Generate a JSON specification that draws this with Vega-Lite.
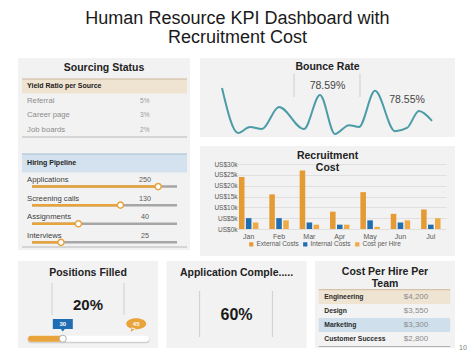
{
  "$schema": "https://vega.github.io/schema/vega-lite/v6.json",
  "background": "white",
  "padding": {"left": 18, "top": 9, "right": 0, "bottom": 0},
  "config": {
    "font": "Liberation Sans",
    "view": {"fill": "#f2f2f2", "stroke": null},
    "title": {"fontSize": 10.5, "fontWeight": "bold", "color": "#222222", "anchor": "middle", "frame": "group"}
  },
  "title": {"text": ["Human Resource KPI Dashboard with", "Recruitment Cost"], "fontSize": 18, "fontWeight": "normal", "color": "#1a1a1a", "lineHeight": 19.5, "offset": 11, "frame": "bounds", "anchor": "middle", "dx": -5},
  "spacing": 5,
  "resolve": {"scale": {"color": "independent"}, "legend": {"color": "independent"}},
  "vconcat": [
    {
      "spacing": 10,
      "resolve": {"scale": {"color": "independent"}, "legend": {"color": "independent"}},
      "hconcat": [
        {
          "width": 172, "height": 192,
          "title": {"text": "Sourcing Status", "offset": -15},
          "layer": [
            {
              "data": {"values": [
                {"source": "Referral", "ratio": "5%"},
                {"source": "Career page", "ratio": "3%"},
                {"source": "Job boards", "ratio": "2%"}
              ]},
              "layer": [
                {"data": {"values": [{}]}, "mark": {"type": "rect", "color": "#efe3d2"},
                 "encoding": {
                   "y": {"datum": "Yield Ratio per Source", "type": "nominal", "scale": {"type": "band", "domain": ["Yield Ratio per Source", "Referral", "Career page", "Job boards"], "range": [21, 79], "paddingInner": 0, "paddingOuter": 0}, "axis": null},
                   "x": {"datum": -0.069, "type": "quantitative", "scale": {"domain": [0, 1], "range": [14, 159], "zero": false, "nice": false}, "axis": null},
                   "x2": {"datum": 1.069}}},
                {"data": {"values": [{}]}, "mark": {"type": "rule", "color": "#cdb99b", "strokeWidth": 1},
                 "encoding": {
                   "y": {"datum": "Yield Ratio per Source", "type": "nominal", "bandPosition": 0, "axis": null},
                   "x": {"datum": -0.069, "type": "quantitative", "axis": null},
                   "x2": {"datum": 1.069}}},
                {"data": {"values": [{}]}, "mark": {"type": "text", "text": "Yield Ratio per Source", "align": "left", "baseline": "middle", "fontSize": 7, "fontWeight": "bold", "color": "#222222"},
                 "encoding": {
                   "y": {"datum": "Yield Ratio per Source", "type": "nominal", "axis": null},
                   "x": {"datum": -0.034, "type": "quantitative", "axis": null}}},
                {"mark": {"type": "text", "align": "left", "baseline": "middle", "fontSize": 7.7, "color": "#8c8c8c"},
                 "encoding": {
                   "y": {"field": "source", "type": "nominal", "axis": null},
                   "x": {"datum": -0.034, "type": "quantitative", "axis": null},
                   "text": {"field": "source"}}},
                {"mark": {"type": "text", "align": "left", "baseline": "middle", "fontSize": 6.5, "color": "#9a9a9a"},
                 "encoding": {
                   "y": {"field": "source", "type": "nominal", "axis": null},
                   "x": {"datum": 0.745, "type": "quantitative", "axis": null},
                   "text": {"field": "ratio"}}},
                {"data": {"values": [{}]}, "mark": {"type": "rule", "color": "#b8b8b8", "strokeWidth": 1},
                 "encoding": {
                   "y": {"datum": "Job boards", "type": "nominal", "bandPosition": 1, "axis": null},
                   "x": {"datum": -0.069, "type": "quantitative", "axis": null},
                   "x2": {"datum": 1.069}}}
              ]
            },
            {
              "data": {"values": [
                {"stage": "Applications", "count": 250, "progress": 0.87},
                {"stage": "Screening calls", "count": 130, "progress": 0.61},
                {"stage": "Assignments", "count": 40, "progress": 0.32},
                {"stage": "Interviews", "count": 25, "progress": 0.2}
              ]},
              "layer": [
                {"data": {"values": [{}]}, "mark": {"type": "rect", "color": "#d3e2ee"},
                 "encoding": {
                   "y": {"datum": "Hiring Pipeline", "type": "nominal", "scale": {"type": "band", "domain": ["Hiring Pipeline", "Applications", "Screening calls", "Assignments", "Interviews"], "range": [96, 189], "paddingInner": 0, "paddingOuter": 0}, "axis": null},
                   "x": {"datum": -0.069, "type": "quantitative", "axis": null},
                   "x2": {"datum": 1.069}}},
                {"data": {"values": [{}]}, "mark": {"type": "rule", "color": "#a3bbcf", "strokeWidth": 1},
                 "encoding": {
                   "y": {"datum": "Hiring Pipeline", "type": "nominal", "bandPosition": 0, "axis": null},
                   "x": {"datum": -0.069, "type": "quantitative", "axis": null},
                   "x2": {"datum": 1.069}}},
                {"data": {"values": [{}]}, "mark": {"type": "text", "text": "Hiring Pipeline", "align": "left", "baseline": "middle", "fontSize": 7, "fontWeight": "bold", "color": "#222222"},
                 "encoding": {
                   "y": {"datum": "Hiring Pipeline", "type": "nominal", "axis": null},
                   "x": {"datum": -0.034, "type": "quantitative", "axis": null}}},
                {"mark": {"type": "rule", "color": "#a6a6a6", "strokeWidth": 2.5},
                 "encoding": {
                   "y": {"field": "stage", "type": "nominal", "bandPosition": 0.75, "axis": null},
                   "x": {"datum": 0, "type": "quantitative", "axis": null},
                   "x2": {"datum": 1}}},
                {"mark": {"type": "rule", "color": "#e8a33b", "strokeWidth": 2.5},
                 "encoding": {
                   "y": {"field": "stage", "type": "nominal", "bandPosition": 0.75, "axis": null},
                   "x": {"field": "progress", "type": "quantitative", "axis": null},
                   "x2": {"datum": 0}}},
                {"mark": {"type": "text", "align": "left", "baseline": "middle", "fontSize": 7.7, "color": "#3d3d3d"},
                 "encoding": {
                   "y": {"field": "stage", "type": "nominal", "bandPosition": 0.4, "axis": null},
                   "x": {"datum": -0.034, "type": "quantitative", "axis": null},
                   "text": {"field": "stage"}}},
                {"mark": {"type": "text", "align": "center", "baseline": "middle", "fontSize": 7.2, "color": "#595959"},
                 "encoding": {
                   "y": {"field": "stage", "type": "nominal", "bandPosition": 0.4, "axis": null},
                   "x": {"datum": 0.78, "type": "quantitative", "axis": null},
                   "text": {"field": "count"}}},
                {"mark": {"type": "point", "filled": true, "fill": "white", "stroke": "#e8a33b", "strokeWidth": 1.5, "size": 38, "opacity": 1},
                 "encoding": {
                   "y": {"field": "stage", "type": "nominal", "bandPosition": 0.75, "axis": null},
                   "x": {"field": "progress", "type": "quantitative", "axis": null}}},
                {"data": {"values": [{}]}, "mark": {"type": "rule", "color": "#b8b8b8", "strokeWidth": 1},
                 "encoding": {
                   "y": {"datum": "Interviews", "type": "nominal", "bandPosition": 1, "axis": null},
                   "x": {"datum": -0.069, "type": "quantitative", "axis": null},
                   "x2": {"datum": 1.069}}}
              ]
            }
          ],
          "resolve": {"scale": {"y": "independent"}}
        },
        {
          "spacing": 8,
          "resolve": {"scale": {"color": "independent"}, "legend": {"color": "independent"}},
          "vconcat": [
            {
              "width": 255, "height": 79,
              "title": {"text": "Bounce Rate", "subtitle": "78.59%", "subtitleFontSize": 10.5, "subtitleColor": "#444444", "subtitlePadding": 8, "offset": -33},
              "data": {"values": [
                {"day": 0, "rate": 78.90},
                {"day": 2.29, "rate": 77.63},
                {"day": 4, "rate": 77.80},
                {"day": 5.71, "rate": 77.74},
                {"day": 8.14, "rate": 78.36},
                {"day": 11.71, "rate": 77.74},
                {"day": 14, "rate": 78.70},
                {"day": 16.14, "rate": 77.60},
                {"day": 18.14, "rate": 77.85},
                {"day": 19.57, "rate": 77.80},
                {"day": 21.86, "rate": 78.82},
                {"day": 24.71, "rate": 77.68},
                {"day": 26.43, "rate": 77.77},
                {"day": 28.14, "rate": 78.25},
                {"day": 30, "rate": 77.97}
              ]},
              "layer": [
                {"mark": {"type": "line", "interpolate": "monotone", "color": "#4b9ca6", "strokeWidth": 2},
                 "encoding": {
                   "x": {"field": "day", "type": "quantitative", "scale": {"domain": [0, 30], "range": [22, 232], "nice": false, "zero": false}, "axis": null},
                   "y": {"field": "rate", "type": "quantitative", "scale": {"domain": [77.6, 78.9], "range": [76, 30], "nice": false, "zero": false}, "axis": null}}},
                {"data": {"values": [{}]}, "mark": {"type": "rule", "color": "#d4d4d4", "strokeWidth": 1.2},
                 "encoding": {
                   "x": {"datum": 10.29, "type": "quantitative", "axis": null},
                   "y": {"datum": 79.3, "type": "quantitative", "axis": null},
                   "y2": {"datum": 78.646}}},
                {"data": {"values": [{}]}, "mark": {"type": "rule", "color": "#d4d4d4", "strokeWidth": 1.2},
                 "encoding": {
                   "x": {"datum": 19.71, "type": "quantitative", "axis": null},
                   "y": {"datum": 79.3, "type": "quantitative", "axis": null},
                   "y2": {"datum": 78.646}}},
                {"data": {"values": [{}]}, "mark": {"type": "text", "text": "78.55%", "fontSize": 10.5, "color": "#444444", "align": "center", "baseline": "middle"},
                 "encoding": {
                   "x": {"datum": 26.43, "type": "quantitative", "axis": null},
                   "y": {"datum": 78.56, "type": "quantitative", "axis": null}}}
              ]
            },
            {
              "width": 255, "height": 110,
              "title": {"text": ["Recruitment", "Cost"], "lineHeight": 12, "offset": -27},
              "data": {"values": [
                {"month": "Jan", "series": "External Costs", "cost": 24000},
                {"month": "Jan", "series": "Internal Costs", "cost": 5000},
                {"month": "Jan", "series": "Cost per Hire", "cost": 3000},
                {"month": "Feb", "series": "External Costs", "cost": 16000},
                {"month": "Feb", "series": "Internal Costs", "cost": 5000},
                {"month": "Feb", "series": "Cost per Hire", "cost": 4000},
                {"month": "Mar", "series": "External Costs", "cost": 27000},
                {"month": "Mar", "series": "Internal Costs", "cost": 3000},
                {"month": "Mar", "series": "Cost per Hire", "cost": 2000},
                {"month": "Apr", "series": "External Costs", "cost": 8000},
                {"month": "Apr", "series": "Internal Costs", "cost": 2000},
                {"month": "Apr", "series": "Cost per Hire", "cost": 2000},
                {"month": "May", "series": "External Costs", "cost": 17000},
                {"month": "May", "series": "Internal Costs", "cost": 4000},
                {"month": "May", "series": "Cost per Hire", "cost": 1000},
                {"month": "Jun", "series": "External Costs", "cost": 7000},
                {"month": "Jun", "series": "Internal Costs", "cost": 3000},
                {"month": "Jun", "series": "Cost per Hire", "cost": 4000},
                {"month": "Jul", "series": "External Costs", "cost": 9000},
                {"month": "Jul", "series": "Internal Costs", "cost": 2000},
                {"month": "Jul", "series": "Cost per Hire", "cost": 5000}
              ]},
              "mark": {"type": "bar"},
              "encoding": {
                "x": {"field": "month", "type": "ordinal", "sort": ["Jan", "Feb", "Mar", "Apr", "May", "Jun", "Jul"], "scale": {"range": [33.5, 246], "paddingInner": 0.36, "paddingOuter": 0.18}, "axis": {"title": null, "labelAngle": 0, "offset": -27, "domain": false, "ticks": false, "tickSize": 0, "labelFontSize": 7, "labelColor": "#595959", "labelPadding": 3}},
                "xOffset": {"field": "series", "type": "nominal", "sort": ["External Costs", "Internal Costs", "Cost per Hire"], "scale": {"paddingInner": 0.2}},
                "y": {"field": "cost", "type": "quantitative", "scale": {"domain": [0, 30000], "range": [83, 18], "nice": false}, "axis": {"title": null, "values": [0, 5000, 10000, 15000, 20000, 25000, 30000], "labelExpr": "'US$' + (datum.value / 1000) + 'k'", "offset": -39, "domain": false, "ticks": false, "tickSize": 0, "labelFontSize": 6.5, "labelColor": "#595959", "labelPadding": 2, "gridColor": "#d9d9d9", "gridWidth": 0.8}},
                "color": {"field": "series", "type": "nominal", "scale": {"domain": ["External Costs", "Internal Costs", "Cost per Hire"], "range": ["#e59b34", "#1f6db3", "#f0aa45"]}, "legend": {"orient": "none", "legendX": 48, "legendY": 95, "direction": "horizontal", "title": null, "symbolType": "square", "symbolSize": 18, "symbolStrokeWidth": 0, "labelFontSize": 6.5, "labelColor": "#595959", "columnPadding": 3, "labelOffset": 2}}
              }
            }
          ]
        }
      ]
    },
    {
      "spacing": 8.5,
      "hconcat": [
        {
          "width": 140, "height": 87,
          "title": {"text": "Positions Filled", "subtitle": "20%", "subtitleFontSize": 15, "subtitleFontWeight": "bold", "subtitleColor": "#1a1a1a", "subtitlePadding": 20, "offset": -52},
          "data": {"values": [{"current": 30, "target": 45}]},
          "layer": [
            {"mark": {"type": "rule", "color": "#d0d0d0", "strokeWidth": 7, "strokeCap": "round"},
             "encoding": {
               "x": {"datum": 23.5, "type": "quantitative", "scale": {"domain": [23.5, 47], "range": [13, 128], "nice": false, "zero": false}, "axis": null},
               "x2": {"datum": 47},
               "y": {"datum": 0.095, "type": "quantitative", "scale": {"domain": [0, 1], "nice": false, "zero": false}, "axis": null}}},
            {"mark": {"type": "rule", "color": "#d4d4d4", "strokeWidth": 1.2},
             "encoding": {
               "x": {"datum": 27.79, "type": "quantitative", "axis": null},
               "y": {"datum": 0.747, "type": "quantitative", "axis": null},
               "y2": {"datum": 0.379}}},
            {"mark": {"type": "rule", "color": "#d4d4d4", "strokeWidth": 1.2},
             "encoding": {
               "x": {"datum": 42.5, "type": "quantitative", "axis": null},
               "y": {"datum": 0.747, "type": "quantitative", "axis": null},
               "y2": {"datum": 0.379}}},
            {"mark": {"type": "rule", "color": "#ffffff", "strokeWidth": 6, "strokeCap": "round"},
             "encoding": {
               "x": {"datum": 23.5, "type": "quantitative", "axis": null},
               "x2": {"datum": 47},
               "y": {"datum": 0.107, "type": "quantitative", "axis": null}}},
            {"mark": {"type": "rule", "color": "#e8a33b", "strokeWidth": 6, "strokeCap": "round"},
             "encoding": {
               "x": {"field": "current", "type": "quantitative", "axis": null},
               "x2": {"datum": 23.5},
               "y": {"datum": 0.107, "type": "quantitative", "axis": null}}},
            {"mark": {"type": "point", "filled": true, "fill": "#ffffff", "stroke": "#b0b0b0", "strokeWidth": 1, "size": 50, "opacity": 1},
             "encoding": {
               "x": {"field": "current", "type": "quantitative", "axis": null},
               "y": {"datum": 0.107, "type": "quantitative", "axis": null}}},
            {"mark": {"type": "point", "filled": true, "shape": "M-1,-0.55L1,-0.55L1,0.45L0.2,0.45L0,0.7L-0.2,0.45L-1,0.45Z", "color": "#1f6db3", "size": 400, "opacity": 1, "strokeWidth": 0},
             "encoding": {
               "x": {"field": "current", "type": "quantitative", "axis": null},
               "y": {"datum": 0.27, "type": "quantitative", "axis": null}}},
            {"mark": {"type": "text", "color": "#ffffff", "fontSize": 6, "fontWeight": "bold", "baseline": "middle", "dy": -0.5},
             "encoding": {
               "x": {"field": "current", "type": "quantitative", "axis": null},
               "y": {"datum": 0.27, "type": "quantitative", "axis": null},
               "text": {"field": "current"}}},
            {"mark": {"type": "point", "filled": true, "shape": "M-1,0A1,0.55,0,1,1,1,0A1,0.55,0,1,1,-1,0ZM-0.45,0.35L-0.55,0.8L-0.05,0.5Z", "color": "#e8a33b", "size": 400, "opacity": 1, "strokeWidth": 0},
             "encoding": {
               "x": {"field": "target", "type": "quantitative", "axis": null},
               "y": {"datum": 0.28, "type": "quantitative", "axis": null}}},
            {"mark": {"type": "text", "color": "#ffffff", "fontSize": 6, "fontWeight": "bold", "baseline": "middle"},
             "encoding": {
               "x": {"field": "target", "type": "quantitative", "axis": null},
               "y": {"datum": 0.28, "type": "quantitative", "axis": null},
               "text": {"field": "target"}}}
          ]
        },
        {
          "width": 140, "height": 87,
          "title": {"text": "Application Comple.....", "subtitle": "60%", "subtitleFontSize": 16, "subtitleFontWeight": "bold", "subtitleColor": "#1a1a1a", "subtitlePadding": 29, "offset": -62},
          "data": {"values": [{}]},
          "layer": [
            {"mark": {"type": "rule", "color": "#d4d4d4", "strokeWidth": 1.2},
             "encoding": {
               "x": {"datum": 0.236, "type": "quantitative", "scale": {"domain": [0, 1], "nice": false, "zero": false}, "axis": null},
               "y": {"datum": 0.655, "type": "quantitative", "scale": {"domain": [0, 1], "nice": false, "zero": false}, "axis": null},
               "y2": {"datum": 0.126}}},
            {"mark": {"type": "rule", "color": "#d4d4d4", "strokeWidth": 1.2},
             "encoding": {
               "x": {"datum": 0.757, "type": "quantitative", "axis": null},
               "y": {"datum": 0.655, "type": "quantitative", "axis": null},
               "y2": {"datum": 0.126}}}
          ]
        },
        {
          "width": 140, "height": 87,
          "title": {"text": ["Cost Per Hire Per", "Team"], "lineHeight": 11.5, "offset": -28},
          "data": {"values": [
            {"team": "Engineering", "cost": 4200},
            {"team": "Design", "cost": 3550},
            {"team": "Marketing", "cost": 3300},
            {"team": "Customer Success", "cost": 2800}
          ]},
          "layer": [
            {"mark": {"type": "rect"},
             "encoding": {
               "y": {"field": "team", "type": "nominal", "scale": {"type": "band", "domain": ["Engineering", "Design", "Marketing", "Customer Success"], "range": [28.7, 85.5], "paddingInner": 0, "paddingOuter": 0}, "axis": null},
               "x": {"datum": 0.026, "type": "quantitative", "scale": {"domain": [0, 1], "nice": false, "zero": false}, "axis": null},
               "x2": {"datum": 0.966},
               "fill": {"field": "team", "type": "nominal", "scale": {"domain": ["Engineering", "Design", "Marketing", "Customer Success"], "range": ["#efe3d2", "#f3f3f3", "#cfe0ec", "#f3f3f3"]}, "legend": null}}},
            {"data": {"values": [{}]}, "mark": {"type": "rule", "color": "#cdb99b", "strokeWidth": 1},
             "encoding": {
               "y": {"datum": "Engineering", "type": "nominal", "bandPosition": 0, "axis": null},
               "x": {"datum": 0.026, "type": "quantitative", "axis": null},
               "x2": {"datum": 0.966}}},
            {"data": {"values": [{}]}, "mark": {"type": "rule", "color": "#b0b0b0", "strokeWidth": 1.2},
             "encoding": {
               "y": {"datum": "Customer Success", "type": "nominal", "bandPosition": 1, "axis": null},
               "x": {"datum": 0.026, "type": "quantitative", "axis": null},
               "x2": {"datum": 0.966}}},
            {"mark": {"type": "text", "align": "left", "baseline": "middle", "fontSize": 6.8, "fontWeight": "bold", "color": "#2b2b2b"},
             "encoding": {
               "y": {"field": "team", "type": "nominal", "axis": null},
               "x": {"datum": 0.066, "type": "quantitative", "axis": null},
               "text": {"field": "team"}}},
            {"mark": {"type": "text", "align": "left", "baseline": "middle", "fontSize": 8, "color": "#8a8a8a"},
             "encoding": {
               "y": {"field": "team", "type": "nominal", "axis": null},
               "x": {"datum": 0.634, "type": "quantitative", "axis": null},
               "text": {"field": "cost", "format": "$,.0f"}}},
            {"data": {"values": [{}]}, "mark": {"type": "text", "text": "10", "align": "center", "baseline": "middle", "fontSize": 7, "color": "#808080", "dy": 1.5},
             "encoding": {
               "y": {"datum": "Customer Success", "type": "nominal", "bandPosition": 1, "axis": null},
               "x": {"datum": 1.057, "type": "quantitative", "axis": null}}}
          ]
        }
      ]
    }
  ]
}
